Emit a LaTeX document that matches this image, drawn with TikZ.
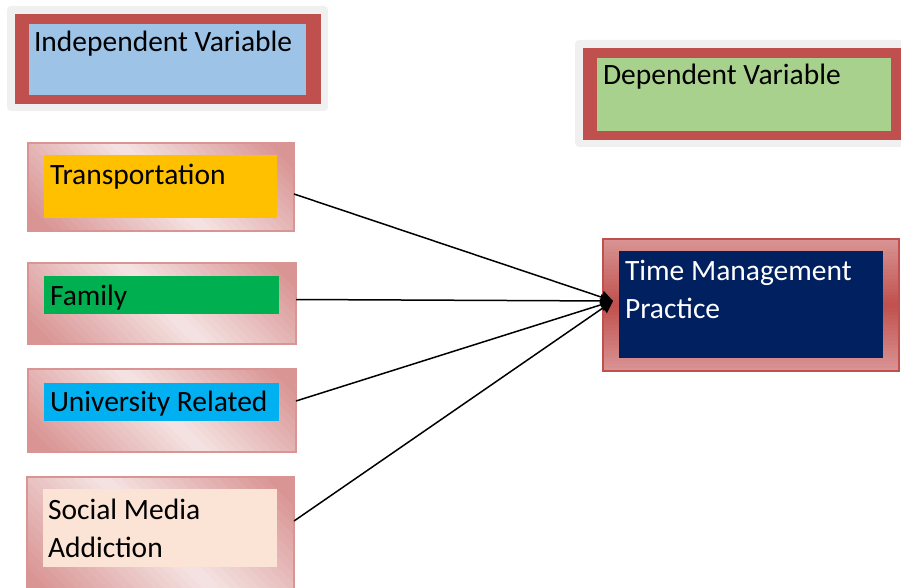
\documentclass[tikz,border=0pt]{standalone}
\usepackage{fontspec}
\setmainfont{Carlito}
\usetikzlibrary{arrows.meta}
\definecolor{frameRed}{HTML}{C0504D}
\definecolor{paleGray}{HTML}{F0F0F0}
\definecolor{ivBlue}{HTML}{9DC3E6}
\definecolor{dvGreen}{HTML}{A9D18E}
\definecolor{trYellow}{HTML}{FFC000}
\definecolor{faGreen}{HTML}{00B050}
\definecolor{unCyan}{HTML}{00B0F0}
\definecolor{smPeach}{HTML}{FBE4D5}
\definecolor{tmNavy}{HTML}{002060}
\definecolor{pinkDark}{HTML}{D99594}
\definecolor{pinkLight}{HTML}{F5E4E4}
% diagonal gradient: dark at top-right and bottom-left corners, light in the middle
\newcommand{\pinkgrad}[4]{%
  \begin{scope}
    \clip (#1,#2) rectangle ++(#3,#4);
    \foreach \i in {0,...,39}{%
      \pgfmathsetmacro{\ua}{-#3+(#3+#4)*\i/40}%
      \pgfmathsetmacro{\ub}{-#3+(#3+#4)*(\i+1)/40+0.8}%
      \pgfmathsetmacro{\fr}{min(100,abs((\i+0.5)/40-0.5)*2*100*1.15)}%
      \fill[pinkDark!\fr!pinkLight] (#1-400,#2-400+\ua) -- (#1+400,#2+400+\ua) -- (#1+400,#2+400+\ub) -- (#1-400,#2-400+\ub) -- cycle;
    }
  \end{scope}}
% vertical gradient: light pink top and bottom, red in the middle
\newcommand{\redgrad}[4]{%
  \foreach \i in {0,...,39}{%
    \pgfmathsetmacro{\fr}{100-abs((\i+0.5)/40-0.5)*2*100}%
    \fill[frameRed!\fr!pinkDark] (#1,{#2+#4*\i/40}) rectangle (#1+#3,{#2+#4*(\i+1)/40+0.6});
  }}
\begin{document}
\begin{tikzpicture}[x=1pt,y=-1pt,
  every node/.style={inner sep=0pt,outer sep=0pt},
  grayback/.style={fill=paleGray,rounded corners=4pt,anchor=north west},
  redframe/.style={fill=frameRed,anchor=north west},
  fillbox/.style={fill=#1,anchor=north west},
  pinkbox/.style={draw=pinkDark,line width=1.5pt,anchor=north west},
  tmbox/.style={draw=frameRed,line width=1.5pt,anchor=north west},
  label/.style={anchor=base west,font=\fontsize{29.5}{38}\selectfont,align=left},
  conn/.style={line width=1.5pt,-{Triangle[length=12pt,width=13pt]}}
]
\useasboundingbox (0,0) rectangle (901,588);

% Independent Variable legend
\node[grayback,minimum width=321pt,minimum height=105pt] (ivg) at (7,6) {};
\node[redframe,minimum width=306pt,minimum height=90pt] (ivr) at (15,14) {};
\node[fillbox=ivBlue,minimum width=277pt,minimum height=71pt] (ivb) at (29,24) {};
\node[label] (ivt) at (34,52) {Independent Variable};

% Dependent Variable legend
\node[grayback,minimum width=330pt,minimum height=107pt] (dvg) at (575,40) {};
\node[redframe,minimum width=320pt,minimum height=92pt] (dvr) at (583,48) {};
\node[fillbox=dvGreen,minimum width=294pt,minimum height=73pt] (dvb) at (597,58) {};
\node[label] (dvt) at (603,85) {Dependent Variable};

% Transportation
\pinkgrad{28}{143}{266}{88}
\node[pinkbox,minimum width=266pt,minimum height=88pt] (tro) at (28,143) {};
\node[fillbox=trYellow,minimum width=233pt,minimum height=63pt] (tri) at (44,155) {};
\node[label] (trt) at (50,184) {Transportation};

% Family
\pinkgrad{28}{263}{268}{81}
\node[pinkbox,minimum width=268pt,minimum height=81pt] (fao) at (28,263) {};
\node[fillbox=faGreen,minimum width=235pt,minimum height=38pt] (fai) at (44,276) {};
\node[label] (fat) at (50,305) {Family};

% University Related
\pinkgrad{28}{369}{268}{83}
\node[pinkbox,minimum width=268pt,minimum height=83pt] (uno) at (28,369) {};
\node[fillbox=unCyan,minimum width=235pt,minimum height=38pt] (uni) at (44,383) {};
\node[label] (unt) at (50,411) {University Related};

% Social Media Addiction
\pinkgrad{27}{477}{267}{120}
\node[pinkbox,minimum width=267pt,minimum height=120pt] (smo) at (27,477) {};
\node[fillbox=smPeach,minimum width=234pt,minimum height=78pt] (smi) at (43,489) {};
\node[label] (smt) at (48,557) {Social Media\\Addiction};

% Time Management Practice
\redgrad{603}{239}{296}{132}
\node[tmbox,minimum width=296pt,minimum height=132pt] (tmo) at (603,239) {};
\node[fillbox=tmNavy,minimum width=264pt,minimum height=107pt] (tmi) at (619,251) {};
\node[label,text=white] (tmt) at (625,318) {Time Management\\Practice};

% connectors
\coordinate (tip) at (613,301);
\coordinate (s1) at ([yshift=-7pt]tro.east);
\coordinate (s2) at ([yshift=4pt]fao.east);
\coordinate (s3) at ([yshift=9.5pt]uno.east);
\coordinate (s4) at (smo.north east |- 0,521);
\draw[conn] (s1) -- (tip);
\draw[conn] (s2) -- (tip);
\draw[conn] (s3) -- (tip);
\draw[conn] (s4) -- (tip);
\end{tikzpicture}
\end{document}
